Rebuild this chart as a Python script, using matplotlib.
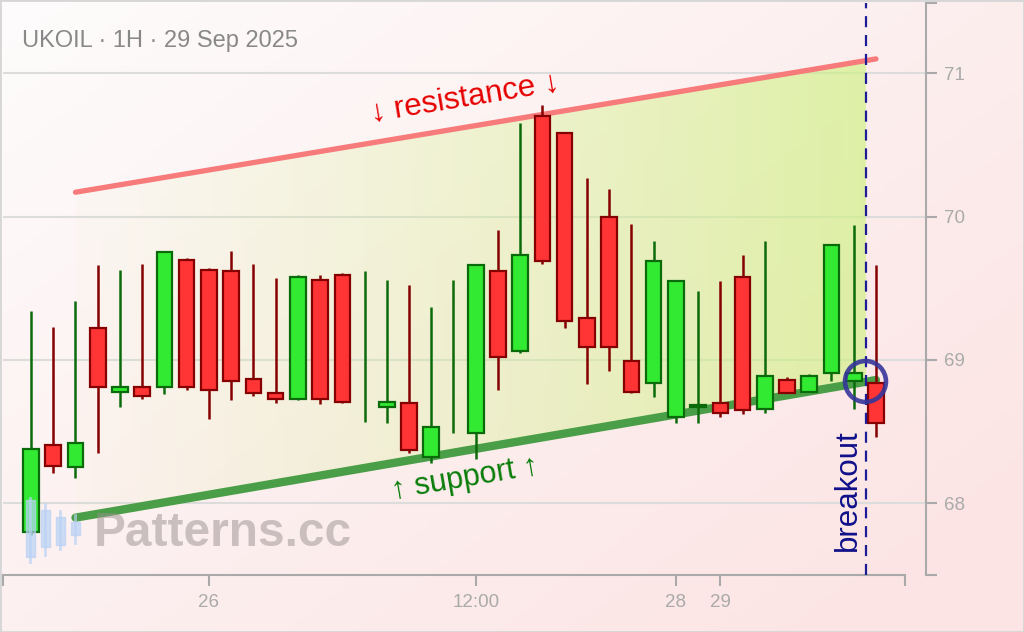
import matplotlib.pyplot as plt
import numpy as np
from matplotlib.patches import Polygon, Rectangle

plt.rcParams['font.family'] = ['Liberation Sans', 'DejaVu Sans']

# hourly candles, UKOIL
opens = [67.80, 68.41, 68.25, 69.22, 68.78, 68.81, 68.81, 69.70, 69.63, 69.62,
         68.87, 68.77, 68.73, 69.56, 69.59, 68.58, 68.67, 68.70, 68.32, 68.50,
         68.49, 69.62, 69.06, 70.70, 70.58, 69.29, 70.00, 68.99, 68.84, 68.60,
         68.67, 68.70, 69.58, 68.66, 68.86, 68.78, 68.91, 68.85, 68.84]
highs = [69.34, 69.23, 69.41, 69.66, 69.63, 69.67, 69.76, 69.71, 69.64, 69.76,
         69.67, 69.57, 69.59, 69.59, 69.61, 69.62, 69.56, 69.52, 69.37, 69.56,
         69.66, 69.91, 70.65, 70.78, 70.59, 70.27, 70.19, 69.95, 69.83, 69.55,
         69.48, 69.55, 69.73, 69.83, 68.88, 68.90, 69.80, 69.94, 69.66]
lows = [67.78, 68.21, 68.18, 68.35, 68.67, 68.73, 68.76, 68.79, 68.59, 68.72,
        68.75, 68.70, 68.72, 68.69, 68.70, 68.57, 68.56, 68.35, 68.28, 68.49,
        68.31, 68.79, 69.05, 69.67, 69.22, 68.83, 68.92, 68.77, 68.74, 68.56,
        68.56, 68.60, 68.62, 68.63, 68.77, 68.78, 68.85, 68.66, 68.46]
closes = [68.38, 68.26, 68.42, 68.81, 68.81, 68.75, 69.75, 68.81, 68.79, 68.85,
          68.77, 68.73, 69.58, 68.73, 68.71, 68.58, 68.71, 68.37, 68.53, 68.50,
          69.66, 69.02, 69.73, 69.69, 69.27, 69.09, 69.09, 68.78, 69.69, 69.55,
          68.68, 68.63, 68.65, 68.89, 68.77, 68.89, 69.80, 68.91, 68.56]

tick_pos = [8, 20, 29, 31]
tick_labels = ['26', '12:00', '28', '29']
y_ticks = [68, 69, 70, 71]

res_x = [2, 38]
res_y = [70.17, 71.10]
sup_x = [2, 38]
sup_y = [67.90, 68.86]
breakout_x = 37.55
breakout_y = 68.85

xmin, xmax = -1.26, 40.25
ymin, ymax = 67.5, 71.49

fig = plt.figure(figsize=(10.24, 6.32), dpi=100)

# page background gradient
bg = fig.add_axes([0, 0, 1, 1], zorder=-10)
yy, xx = np.mgrid[0:1:200j, 0:1:300j]
t = np.clip(0.6 * xx + 0.5 * yy, 0, 1)
c0 = np.array([254, 252, 252]) / 255
c1 = np.array([252, 228, 228]) / 255
bg.imshow(c0 + t[..., None] * (c1 - c0), extent=[0, 1, 0, 1], aspect='auto')
bg.add_patch(Rectangle((0, 0), 1, 1, fill=False, edgecolor='#d6d6d6', lw=2,
                       transform=bg.transAxes))
bg.set_xlim(0, 1)
bg.set_ylim(0, 1)
bg.axis('off')

ax = fig.add_axes([3 / 1024, 57 / 632, 923 / 1024, 572 / 632])
ax.patch.set_alpha(0)
ax.set_xlim(xmin, xmax)
ax.set_ylim(ymin, ymax)

# channel fill with horizontal gradient
r_end = np.interp(breakout_x, res_x, res_y)
s_end = np.interp(breakout_x, sup_x, sup_y)
poly = Polygon([(res_x[0], res_y[0]), (breakout_x, r_end),
                (breakout_x, s_end), (sup_x[0], sup_y[0])],
               closed=True, facecolor='none', edgecolor='none')
ax.add_patch(poly)
g = np.linspace(0, 1, 256)
grad = np.zeros((2, 256, 4))
grad[..., 0] = 0.86 - 0.06 * g
grad[..., 1] = 0.95
grad[..., 2] = 0.62 - 0.14 * g
grad[..., 3] = 0.04 + 0.58 * g
im = ax.imshow(grad, extent=[res_x[0], breakout_x, ymin, ymax],
               aspect='auto', zorder=1, interpolation='bilinear')
im.set_clip_path(poly)

ax.plot(res_x, res_y, color='#f77b7b', lw=3.8, solid_capstyle='round', zorder=2)
ax.plot(sup_x, sup_y, color='#4a9e47', lw=6, solid_capstyle='round', zorder=2)

for i in range(len(opens)):
    o, h, l, c = opens[i], highs[i], lows[i], closes[i]
    if c >= o:
        fill, edge = '#33ea33', '#0b6b0b'
    else:
        fill, edge = '#ff3535', '#850000'
    ax.vlines(i, l, h, color=edge, lw=1.8, zorder=3)
    if o == c:
        continue
    ax.bar(i, max(abs(c - o), 0.015), bottom=min(o, c), width=0.7,
           color=fill, edgecolor=edge, lw=1.6, zorder=4)

ax.text(19.5, 70.826, '↓ resistance ↓', color='#e60000', fontsize=22.5,
        rotation=9.4, rotation_mode='anchor', ha='center', va='center', zorder=6)
ax.text(19.5, 68.174, '↑ support ↑', color='#0a7d0a', fontsize=22,
        rotation=9.7, rotation_mode='anchor', ha='center', va='center', zorder=6)

ax.axvline(breakout_x, color='#1c1c96', lw=1.6, dashes=(5, 3.5), zorder=5)
ax.plot([breakout_x - 0.05], [breakout_y], marker='o', ms=29.5, mfc='none',
        mec='#35359a', mew=3.3, alpha=0.9, zorder=6)
ax.text(36.74, 68.09, 'breakout', color='#10108a', fontsize=22.5, rotation=90,
        ha='center', va='center', zorder=6)

# axes styling
ax.grid(axis='y', color='#dcdcdc', lw=1.5, zorder=0.5)
ax.set_axisbelow(True)
ax.set_xticks(tick_pos)
ax.set_xticklabels(tick_labels)
ax.set_xticks([xmin, 39.3], minor=True)
ax.yaxis.tick_right()
ax.set_yticks(y_ticks)
ax.set_yticks([ymin, ymax], minor=True)
for side in ['left', 'top']:
    ax.spines[side].set_visible(False)
for side in ['bottom', 'right']:
    ax.spines[side].set_color('#aaaaaa')
    ax.spines[side].set_linewidth(1.5)
ax.spines['bottom'].set_bounds(xmin, 39.3)
ax.tick_params(which='both', length=8, width=1.5, color='#aaaaaa',
               labelcolor='#aaaaaa', labelsize=13.5)
ax.tick_params(axis='x', pad=6)
ax.tick_params(axis='y', pad=5)

# overlay: title and watermark
ov = fig.add_axes([0, 0, 1, 1], zorder=10)
ov.set_xlim(0, 1024)
ov.set_ylim(632, 0)
ov.axis('off')
ov.patch.set_alpha(0)
ov.text(22, 41, 'UKOIL · 1H · 29 Sep 2025', color='#888888', fontsize=17,
        va='center', ha='left')
ov.text(94, 533, 'Patterns.cc', color='#9a9090', alpha=0.5, fontsize=34.5,
        fontweight='bold', va='center', ha='left')
icon = [(30, 498, 562, 500, 557), (45, 504, 555, 510, 547),
        (60, 511, 549, 517, 545), (75, 515, 543, 522, 535)]
for cx, wt, wb, bt, bb in icon:
    ov.plot([cx, cx], [wt, wb], color='#b9d2f5', lw=2, alpha=0.7)
    ov.add_patch(Rectangle((cx - 4.5, bt), 9, bb - bt, color='#b9d2f5', alpha=0.7))

fig.savefig('out.png', dpi=100)
